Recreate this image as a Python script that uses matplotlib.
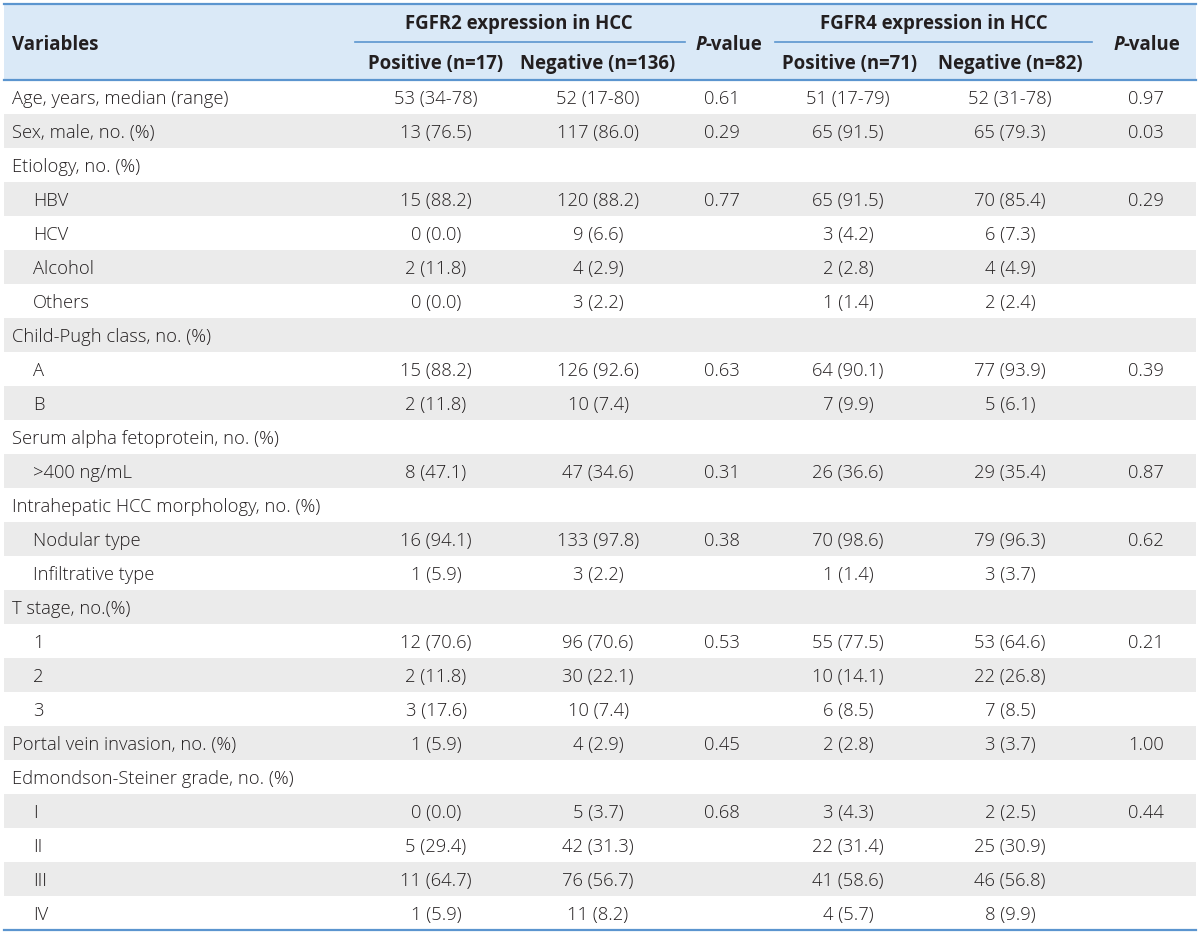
import matplotlib.pyplot as plt
from matplotlib.patches import Rectangle

plt.rcParams['font.family'] = ['Open Sans', 'DejaVu Sans']

variables = ['Age, years, median (range)', 'Sex, male, no. (%)', 'Etiology, no. (%)',
             'HBV', 'HCV', 'Alcohol', 'Others', 'Child-Pugh class, no. (%)', 'A', 'B',
             'Serum alpha fetoprotein, no. (%)', '>400 ng/mL',
             'Intrahepatic HCC morphology, no. (%)', 'Nodular type', 'Infiltrative type',
             'T stage, no.(%)', '1', '2', '3', 'Portal vein invasion, no. (%)',
             'Edmondson-Steiner grade, no. (%)', 'I', 'II', 'III', 'IV']
indented = [0, 0, 0, 1, 1, 1, 1, 0, 1, 1, 0, 1, 0, 1, 1, 0, 1, 1, 1, 0, 0, 1, 1, 1, 1]
fgfr2_pos = ['53 (34-78)', '13 (76.5)', '', '15 (88.2)', '0 (0.0)', '2 (11.8)', '0 (0.0)', '',
             '15 (88.2)', '2 (11.8)', '', '8 (47.1)', '', '16 (94.1)', '1 (5.9)', '',
             '12 (70.6)', '2 (11.8)', '3 (17.6)', '1 (5.9)', '', '0 (0.0)', '5 (29.4)',
             '11 (64.7)', '1 (5.9)']
fgfr2_neg = ['52 (17-80)', '117 (86.0)', '', '120 (88.2)', '9 (6.6)', '4 (2.9)', '3 (2.2)', '',
             '126 (92.6)', '10 (7.4)', '', '47 (34.6)', '', '133 (97.8)', '3 (2.2)', '',
             '96 (70.6)', '30 (22.1)', '10 (7.4)', '4 (2.9)', '', '5 (3.7)', '42 (31.3)',
             '76 (56.7)', '11 (8.2)']
fgfr2_p = ['0.61', '0.29', '', '0.77', '', '', '', '', '0.63', '', '', '0.31', '', '0.38', '',
           '', '0.53', '', '', '0.45', '', '0.68', '', '', '']
fgfr4_pos = ['51 (17-79)', '65 (91.5)', '', '65 (91.5)', '3 (4.2)', '2 (2.8)', '1 (1.4)', '',
             '64 (90.1)', '7 (9.9)', '', '26 (36.6)', '', '70 (98.6)', '1 (1.4)', '',
             '55 (77.5)', '10 (14.1)', '6 (8.5)', '2 (2.8)', '', '3 (4.3)', '22 (31.4)',
             '41 (58.6)', '4 (5.7)']
fgfr4_neg = ['52 (31-78)', '65 (79.3)', '', '70 (85.4)', '6 (7.3)', '4 (4.9)', '2 (2.4)', '',
             '77 (93.9)', '5 (6.1)', '', '29 (35.4)', '', '79 (96.3)', '3 (3.7)', '',
             '53 (64.6)', '22 (26.8)', '7 (8.5)', '3 (3.7)', '', '2 (2.5)', '25 (30.9)',
             '46 (56.8)', '8 (9.9)']
fgfr4_p = ['0.97', '0.03', '', '0.29', '', '', '', '', '0.39', '', '', '0.87', '', '0.62', '',
           '', '0.21', '', '', '1.00', '', '0.44', '', '', '']
group_titles = ['FGFR2 expression in HCC', 'FGFR4 expression in HCC']
sub_headers = ['Positive (n=17)', 'Negative (n=136)', 'Positive (n=71)', 'Negative (n=82)']

W, H = 1200, 933
fig = plt.figure(figsize=(W / 100, H / 100), dpi=100)
ax = fig.add_axes([0, 0, 1, 1])
ax.set_xlim(0, W)
ax.set_ylim(H, 0)
ax.axis('off')

left, right = 4, 1196
top, head_bot = 4, 80
row_h = 34
line_c = '#5b95cf'
txt_c = '#231f20'
fs = 13.2
hfs = 13.4
va = 'center_baseline'

ax.add_patch(Rectangle((left, top), right - left, head_bot - top, color='#dae9f7', lw=0))
ax.plot([left, right], [top, top], color=line_c, lw=1.6)
ax.plot([left, right], [head_bot, head_bot], color=line_c, lw=1.6)
ax.plot([355, 685], [42, 42], color=line_c, lw=1.2)
ax.plot([775, 1092], [42, 42], color=line_c, lw=1.2)

ax.text(12, 43, 'Variables', fontsize=hfs, fontweight='bold', color=txt_c, va=va)
ax.text(519, 21, group_titles[0], fontsize=hfs, fontweight='bold', color=txt_c,
        ha='center', va=va)
ax.text(934, 21, group_titles[1], fontsize=hfs, fontweight='bold', color=txt_c,
        ha='center', va=va)
for x, s in zip([436, 598, 850, 1010], sub_headers):
    ax.text(x, 61, s, fontsize=hfs, fontweight='bold', color=txt_c, ha='center', va=va)

fig.canvas.draw()
rend = fig.canvas.get_renderer()
for xc in [729, 1147]:
    t1 = ax.text(0, 43, 'P', fontsize=hfs, fontweight='bold', style='italic', color=txt_c,
                 va=va)
    t2 = ax.text(0, 43, '-value', fontsize=hfs, fontweight='bold', color=txt_c, va=va)
    w1 = t1.get_window_extent(rend).width
    w2 = t2.get_window_extent(rend).width
    x0 = xc - (w1 + w2) / 2
    t1.set_x(x0)
    t2.set_x(x0 + w1)

col_x = [436, 598, 722, 848, 1010, 1146]
cols = [fgfr2_pos, fgfr2_neg, fgfr2_p, fgfr4_pos, fgfr4_neg, fgfr4_p]
for i, lab in enumerate(variables):
    y0 = head_bot + i * row_h
    yc = y0 + row_h / 2
    if i % 2 == 1:
        ax.add_patch(Rectangle((left, y0), right - left, row_h, color='#ebebeb', lw=0))
    ax.text(33 if indented[i] else 12, yc, lab, fontsize=fs, color=txt_c, va=va,
            fontweight='light')
    for x, col in zip(col_x, cols):
        ax.text(x, yc, col[i], fontsize=fs, color=txt_c, ha='center', va=va,
                fontweight='light')

bottom = head_bot + len(variables) * row_h
ax.plot([left, right], [bottom, bottom], color=line_c, lw=1.6)

fig.savefig('out.png', dpi=100)
